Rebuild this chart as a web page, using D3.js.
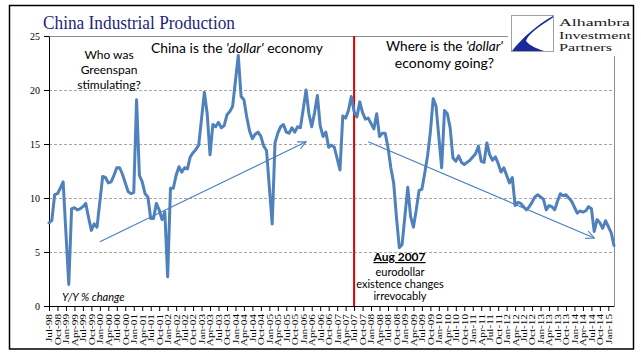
<!DOCTYPE html>
<html><head><meta charset="utf-8">
<script src="https://cdn.jsdelivr.net/npm/d3@7"></script>
<style>
html,body{margin:0;padding:0;background:#fff;}
svg{display:block;}
</style></head>
<body>
<svg id="chart" width="641" height="361"></svg>
<script>
// ---------- DATA ----------
const startMonth = new Date(1998, 6, 1);   // Jul-98
const endMonth = new Date(2015, 3, 1);     // exclusive -> last is Mar-15
const fmt = d3.timeFormat("%b-%y");
const categories = d3.timeMonth.range(startMonth, endMonth).map(fmt);

// China industrial production, Y/Y % change (null = month not reported)
const ipValues = [
  7.7, 7.9, 10.3, 10.4, 10.9, 11.5,                                  // 1998 Jul-Dec
  null, 2.0, 9.0, 9.1, 8.9, 9.0, 9.2, 9.5, 8.2, 7.0, 7.6, 7.3,         // 1999
  null, 12.0, 11.9, 11.4, 11.5, 12.1, 12.8, 12.8, 12.2, 11.4, 10.6, 10.4, // 2000
  10.5, 19.1, 12.1, 11.5, 10.4, 10.1, 8.1, 8.1, 9.5, 8.9, 8.0, 8.7,    // 2001
  2.7, 10.9, 10.9, 12.1, 12.9, 12.4, 12.8, 12.7, 13.8, 14.2, 14.5, 14.9, // 2002
  null, 19.8, 17.8, 14.0, 16.8, 16.6, 17.0, 16.5, 16.7, 17.7, 18.0, 18.5, // 2003
  null, 23.2, 19.4, 19.1, 17.5, 16.2, 15.5, 15.9, 16.1, 15.7, 14.8, 14.4, // 2004
  null, 7.6, 15.1, 16.0, 16.6, 16.8, 16.1, 16.0, 16.5, 16.1, 16.6, 16.5,  // 2005
  null, 20.0, 17.8, 16.6, 17.9, 19.5, 16.7, 15.7, 16.1, 14.7, 14.9, 14.7, // 2006
  null, 12.6, 17.6, 17.4, 18.1, 19.4, 18.0, 17.5, 18.9, 17.9, 17.3, 17.4, // 2007
  null, 16.4, 17.8, 15.7, 16.0, 16.0, 14.7, 12.8, 11.4, 8.2, 5.4, 5.7,    // 2008
  null, 11.0, 8.3, 7.3, 8.9, 10.7, 10.8, 12.3, 13.9, 16.1, 19.2, 18.5,    // 2009
  null, 12.8, 18.1, 17.8, 16.5, 13.7, 13.4, 13.9, 13.3, 13.1, 13.3, 13.5, // 2010
  null, 14.1, 14.8, 13.4, 13.3, 15.1, 14.0, 13.5, 13.8, 13.2, 12.4, 12.8, // 2011
  null, 11.4, 11.9, 9.3, 9.6, 9.5, 9.2, 8.9, 9.2, 9.6, 10.1, 10.3,        // 2012
  null, 9.9, 8.9, 9.3, 9.2, 8.9, 9.7, 10.4, 10.2, 10.3, 10.0, 9.7,        // 2013
  null, 8.6, 8.8, 8.7, 8.8, 9.2, 9.0, 6.9, 8.0, 7.7, 7.2, 7.9,            // 2014
  null, 6.8, 5.6                                                        // 2015
];

const yTicks = [0, 5, 10, 15, 20, 25];
const xTickLabels = categories.filter((d, i) => i % 3 === 0);

const titleText = "China Industrial Production";
const logoLines = ["Alhambra", "Investment", "Partners"];
const leftNote = ["Who was", "Greenspan", "stimulating?"];
const augNote = ["eurodollar", "existence changes", "irrevocably"];
const markerMonth = "Jul-07";
// trend arrows, in data units: [category, value]
const arrowUp = [["Jan-00", 5.95], ["Feb-06", 15.2]];
const arrowDown = [["Dec-07", 15.2], ["Aug-14", 6.3]];

// ---------- LAYOUT ----------
const svg = d3.select("#chart");
const L = 49, R = 614, T = 36, B = 306;

const x = d3.scalePoint().domain(categories).range([L, R]).padding(0);
const y = d3.scaleLinear().domain([0, 25]).range([B, T]);

svg.append("rect").attr("width", 641).attr("height", 361).attr("fill", "#fff");
// outer border
svg.append("rect").attr("x", 9.5).attr("y", 5.5).attr("width", 624).attr("height", 343.5)
  .attr("fill", "none").attr("stroke", "#000").attr("stroke-width", 1.5);

// gridlines
svg.append("g").selectAll("line").data(yTicks.filter(v => v > 0 && v < 25)).join("line")
  .attr("x1", L).attr("x2", R).attr("y1", d => Math.round(y(d)) + 0.5).attr("y2", d => Math.round(y(d)) + 0.5)
  .attr("stroke", "#a6a6a6").attr("stroke-width", 1).attr("stroke-dasharray", "3,2");
// plot border top/right
svg.append("line").attr("x1", L).attr("x2", R).attr("y1", y(25) + 0.5).attr("y2", y(25) + 0.5)
  .attr("stroke", "#8c8c8c").attr("stroke-width", 1);
svg.append("line").attr("x1", R + 0.5).attr("x2", R + 0.5).attr("y1", y(25)).attr("y2", B)
  .attr("stroke", "#8c8c8c").attr("stroke-width", 1);

// x axis
const xAxis = d3.axisBottom(x).tickValues(xTickLabels).tickSize(5).tickSizeOuter(0);
const gx = svg.append("g").attr("transform", `translate(0,${B})`).call(xAxis);
gx.select(".domain").attr("stroke", "#000").attr("stroke-width", 1);
gx.selectAll(".tick line").attr("stroke", "#000");
gx.selectAll(".tick text")
  .attr("font-family", "'Liberation Serif', 'Times New Roman', serif")
  .attr("font-size", 9).attr("fill", "#000")
  .attr("text-anchor", "end").attr("dy", "0.32em").attr("y", 0).attr("x", 0)
  .attr("transform", "translate(0,8) rotate(-90) scale(1.25,1)");

// y axis
const yAxis = d3.axisLeft(y).tickValues(yTicks).tickSize(5).tickSizeOuter(0).tickPadding(4);
const gy = svg.append("g").attr("transform", `translate(${L},0)`).call(yAxis);
gy.select(".domain").attr("stroke", "#000").attr("stroke-width", 1);
gy.selectAll(".tick line").attr("stroke", "#000");
gy.selectAll(".tick text").attr("font-family", "'Liberation Serif', 'Times New Roman', serif")
  .attr("font-size", 10).attr("fill", "#000");

// red marker
svg.append("line").attr("x1", x(markerMonth)).attr("x2", x(markerMonth))
  .attr("y1", y(25)).attr("y2", B).attr("stroke", "#e00000").attr("stroke-width", 2);

// data line
const pts = categories.map((c, i) => ({c, v: ipValues[i]})).filter(d => d.v !== null);
svg.append("path").datum(pts)
  .attr("d", d3.line().x(d => x(d.c)).y(d => y(d.v)))
  .attr("fill", "none").attr("stroke", "#4f81bd").attr("stroke-width", 3)
  .attr("stroke-linejoin", "round").attr("stroke-linecap", "round");

// arrows
function arrow(a) {
  const x1 = x(a[0][0]), y1 = y(a[0][1]), x2 = x(a[1][0]), y2 = y(a[1][1]);
  const ang = Math.atan2(y2 - y1, x2 - x1), h = 9, w = 0.45;
  const g = svg.append("g").attr("stroke", "#4a7ebb").attr("stroke-width", 1.1).attr("fill", "none");
  g.append("line").attr("x1", x1).attr("y1", y1).attr("x2", x2).attr("y2", y2);
  g.append("path").attr("d",
    `M${x2 - h * Math.cos(ang - w)},${y2 - h * Math.sin(ang - w)}L${x2},${y2}L${x2 - h * Math.cos(ang + w)},${y2 - h * Math.sin(ang + w)}`);
}
arrow(arrowUp);
arrow(arrowDown);

// ---------- TEXT ----------
const sans = "Lato, 'Open Sans', 'Liberation Sans', sans-serif";
svg.append("text").attr("x", 43).attr("y", 29).text(titleText)
  .attr("font-family", "'Liberation Serif', serif").attr("font-size", 18.5).attr("fill", "#1f1f7a")
  .attr("textLength", 192).attr("lengthAdjust", "spacingAndGlyphs");

const t1 = svg.append("text").attr("x", 151).attr("y", 52.5).attr("font-family", sans).attr("font-size", 14)
  .attr("fill", "#000").attr("textLength", 172).attr("lengthAdjust", "spacingAndGlyphs");
t1.append("tspan").text("China is the ");
t1.append("tspan").attr("font-style", "italic").text("'dollar'");
t1.append("tspan").text(" economy");

const t2 = svg.append("text").attr("x", 386).attr("y", 51).attr("font-family", sans).attr("font-size", 14)
  .attr("fill", "#000").attr("textLength", 117).attr("lengthAdjust", "spacingAndGlyphs");
t2.append("tspan").text("Where is the ");
t2.append("tspan").attr("font-style", "italic").text("'dollar'");
svg.append("text").attr("x", 444.5).attr("y", 67.5).attr("text-anchor", "middle").attr("font-family", sans)
  .attr("font-size", 14).attr("fill", "#000").text("economy going?");

svg.append("g").selectAll("text").data(leftNote).join("text")
  .attr("x", 109).attr("y", (d, i) => 59 + i * 15).attr("text-anchor", "middle")
  .attr("font-family", sans).attr("font-size", 12).attr("fill", "#000").text(d => d);

svg.append("text").attr("x", 399.5).attr("y", 261).attr("text-anchor", "middle")
  .attr("font-family", sans).attr("font-size", 12).attr("font-weight", "bold")
  .attr("text-decoration", "underline").attr("fill", "#000").text("Aug 2007");
svg.append("g").selectAll("text").data(augNote).join("text")
  .attr("x", 400).attr("y", (d, i) => 275.5 + i * 12.3).attr("text-anchor", "middle")
  .attr("font-family", sans).attr("font-size", 11).attr("fill", "#000").text(d => d);

svg.append("text").attr("x", 62).attr("y", 300.5).attr("font-family", sans).attr("font-size", 11)
  .attr("font-style", "italic").attr("fill", "#000").text("Y/Y % change");

// ---------- LOGO ----------
svg.append("rect").attr("x", 508).attr("y", 11).attr("width", 124).attr("height", 45).attr("fill", "#fff");
svg.append("rect").attr("x", 511.5).attr("y", 15.5).attr("width", 42).attr("height", 36)
  .attr("fill", "#fff").attr("stroke", "#a0a0a0").attr("stroke-width", 1);
svg.append("path")
  .attr("d", "M512,51 C522,38 538,24 553,16 L553,17.5 C540,26 528,34 526,41 C530,46 538,49 544,51 Z")
  .attr("fill", "#1b2a9a");
svg.append("g").selectAll("text").data(logoLines).join("text")
  .attr("x", 559).attr("y", (d, i) => 26 + i * 12.5).attr("font-family", "'Liberation Serif', serif")
  .attr("font-size", 10.8).attr("fill", "#1a1a1a")
  .attr("textLength", (d, i) => [71, 72, 53][i]).attr("lengthAdjust", "spacingAndGlyphs")
  .text(d => d);
</script>
</body></html>
